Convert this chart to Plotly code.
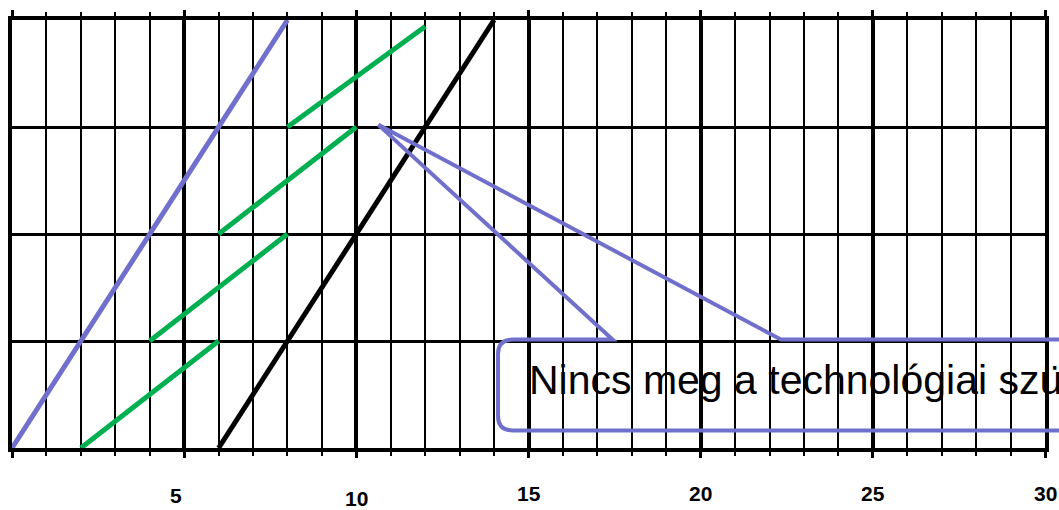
import plotly.graph_objects as go

# ---------------------------------------------------------------------------
# Data (time on x, work sections / levels on y)
# ---------------------------------------------------------------------------
X_MAX = 30
LEVELS = [0, 1, 2, 3, 4]

blue_x = [0, 8]
blue_y = [0, 4]

black_x = [6, 14]
black_y = [0, 4]

green_start_x = [2, 4, 6, 8]
green_end_x = [6, 8, 10, 12]
green_start_y = [0, 1, 2, 3]
green_end_y = [1, 2, 3, 3.94]

callout_apex = (10.64, 3.02)
callout_base_x = [17.44, 22.33]
callout_text = "Nincs meg a technológiai szünet"

tick_vals = [5, 10, 15, 20, 25, 30]
tick_text = ["5", "10", "15", "20", "25", "30"]

BLUE = "#7070CC"
GREEN = "#00B050"
FONT = "Liberation Sans, Arial, sans-serif"

# ---------------------------------------------------------------------------
fig = go.Figure()

fig.add_trace(go.Scatter(
    x=blue_x, y=blue_y, mode="lines",
    line=dict(color=BLUE, width=5), showlegend=False, hoverinfo="skip",
))
for x0, x1, y0, y1 in zip(green_start_x, green_end_x, green_start_y, green_end_y):
    fig.add_trace(go.Scatter(
        x=[x0, x1], y=[y0, y1], mode="lines",
        line=dict(color=GREEN, width=5), showlegend=False, hoverinfo="skip",
    ))
fig.add_trace(go.Scatter(
    x=black_x, y=black_y, mode="lines",
    line=dict(color="black", width=5), showlegend=False, hoverinfo="skip",
))

# Callout box (paper coords so it can run past the right edge)
ymax = LEVELS[-1]
ax, ay = callout_apex[0] / X_MAX, callout_apex[1] / ymax
b0, b1 = callout_base_x[0] / X_MAX, callout_base_x[1] / X_MAX
left, right = 0.4705, 1.08
top, bottom = 0.2534, 0.041
rx, ry = 0.0145, 0.034
path = (
    f"M {b0},{top} L {ax},{ay} L {b1},{top} L {right},{top} L {right},{bottom} "
    f"L {left + rx},{bottom} Q {left},{bottom} {left},{bottom + ry} "
    f"L {left},{top - ry} Q {left},{top} {left + rx},{top} Z"
)
fig.add_shape(
    type="path", path=path, xref="paper", yref="paper",
    line=dict(color=BLUE, width=4), fillcolor="rgba(255,255,255,0)", layer="above",
)
fig.add_annotation(
    x=0.4985, y=0.16, xref="paper", yref="paper",
    text=callout_text, showarrow=False, xanchor="left", yanchor="middle",
    font=dict(family=FONT, size=41, color="black"),
)

# Tick labels, placed like in the original drawing
shifts = {"5": (-8, -47), "10": (0, -50)}
for v, t in zip(tick_vals, tick_text):
    dx, dy = shifts.get(t, (0, -45))
    fig.add_annotation(
        x=v, y=0, xref="x", yref="paper", text=f"<b>{t}</b>",
        showarrow=False, xanchor="center", yanchor="middle",
        xshift=dx, yshift=dy,
        font=dict(family=FONT, size=21, color="black"),
    )

fig.update_layout(
    width=1059, height=510,
    margin=dict(l=12, r=14, t=10, b=62),
    plot_bgcolor="white", paper_bgcolor="white",
    showlegend=False,
    xaxis=dict(
        range=[0, X_MAX], tickmode="array", tickvals=[0] + tick_vals,
        showticklabels=False, ticks="outside", ticklen=6, tickwidth=3, tickcolor="black",
        showgrid=True, gridcolor="black", gridwidth=4,
        minor=dict(dtick=1, showgrid=True, gridcolor="black", gridwidth=2,
                   ticks="outside", ticklen=4, tickwidth=2, tickcolor="black"),
        showline=True, linecolor="black", linewidth=4, zeroline=False,
        mirror="allticks",
    ),
    yaxis=dict(
        range=[LEVELS[0], LEVELS[-1]], tickmode="array", tickvals=LEVELS,
        showticklabels=False, ticks="",
        showgrid=True, gridcolor="black", gridwidth=3,
        showline=True, linecolor="black", linewidth=4, mirror=True, zeroline=False,
    ),
)

fig.write_html(
    "out.html",
    config={"displayModeBar": False},
    post_script="document.body.style.margin='0';",
)
